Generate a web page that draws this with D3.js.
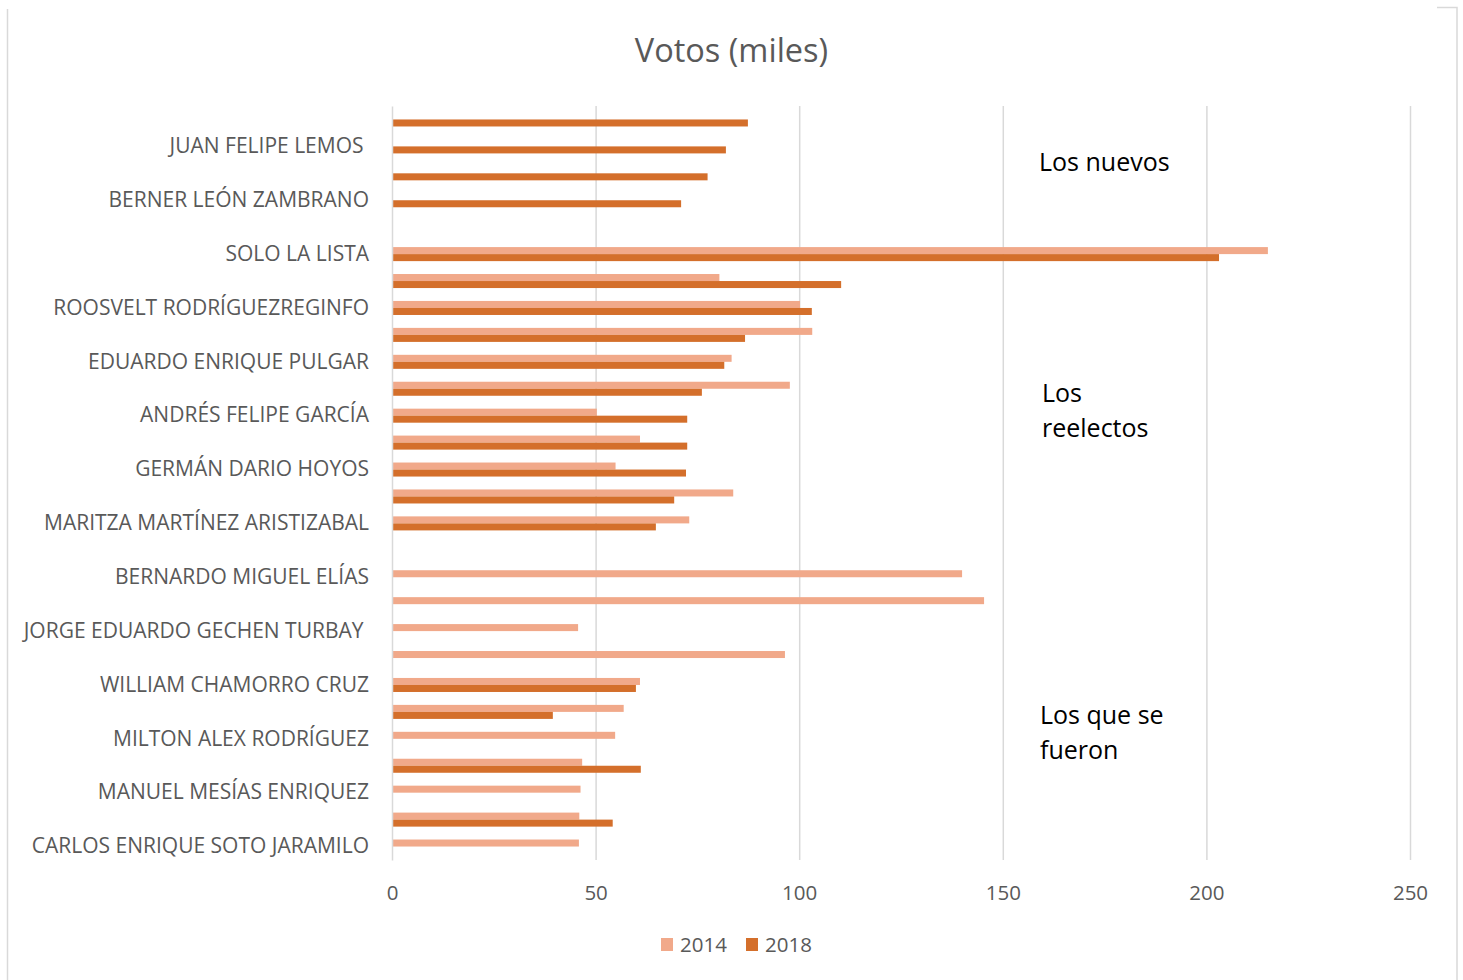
<!DOCTYPE html>
<html>
<head>
<meta charset="utf-8">
<script src="https://cdn.jsdelivr.net/npm/d3@7"></script>
<style>
    body { margin: 0; background: #fff; }
    svg { display: block; font-family: "Open Sans", sans-serif; }
</style>
</head>
<body>
<svg id="chart" width="1463" height="980"></svg>
<script>
'use strict';

// rows from top to bottom; "" = row whose label Excel skipped (or spacer row)
const candidates = [
    '', 'JUAN FELIPE LEMOS ', '', 'BERNER LEÓN ZAMBRANO', '',
    'SOLO LA LISTA', '', 'ROOSVELT RODRÍGUEZREGINFO', '', 'EDUARDO ENRIQUE PULGAR',
    '', 'ANDRÉS FELIPE GARCÍA', '', 'GERMÁN DARIO HOYOS', '', 'MARITZA MARTÍNEZ ARISTIZABAL',
    '', 'BERNARDO MIGUEL ELÍAS', '', 'JORGE EDUARDO GECHEN TURBAY ', '', 'WILLIAM CHAMORRO CRUZ',
    '', 'MILTON ALEX RODRÍGUEZ', '', 'MANUEL MESÍAS ENRIQUEZ', '', 'CARLOS ENRIQUE SOTO JARAMILO'
];

const votes2014 = [
    null, null, null, null, null,
    215.1, 80.4, 100.2, 103.2, 83.4, 97.7, 50.3, 60.9, 54.9, 83.8, 73.0,
    null,
    140.0, 145.4, 45.7, 96.5, 60.9, 56.9, 54.8, 46.7, 46.3, 46.0, 45.9
];

const votes2018 = [
    87.4, 82.0, 77.5, 71.0, null,
    203.1, 110.3, 103.1, 86.7, 81.6, 76.1, 72.5, 72.5, 72.2, 69.3, 64.8,
    null,
    null, null, null, null, 59.9, 39.5, null, 61.1, null, 54.2, null
];

const years = ['2014', '2018'];
const xTicks = [0, 50, 100, 150, 200, 250];
const groups = [
    {lines: ['Los nuevos'], x: 1039, y: 171},
    {lines: ['Los', 'reelectos'], x: 1042, y: 402},
    {lines: ['Los que se', 'fueron'], x: 1040, y: 724}
];

class BarChart {
    constructor(el) {
        this.svg = d3.select(el);
        this.plot = {left: 392, right: 1410, top: 106, bottom: 860};
        this.colors = {'2014': '#f1a98a', '2018': '#d46f2b'};
        this.grid = '#d9d9d9';
        this.text = '#595959';
        this.setUpEnvironment();
        this.drawChart();
    }

    setUpEnvironment() {
        this.xScale = d3.scaleLinear()
            .domain([0, 250])
            .range([this.plot.left, this.plot.right]);

        this.yScale = d3.scaleBand()
            .domain(d3.range(candidates.length))
            .range([this.plot.top, this.plot.bottom]);

        this.subScale = d3.scaleBand()
            .domain(years)
            .range([0, this.yScale.bandwidth()])
            .paddingOuter(0.92);

        this.rows = candidates.map((name, i) => {
            return {i: i, '2014': votes2014[i], '2018': votes2018[i]};
        });
    }

    drawChart() {
        this.drawFrame();
        this.drawGrid();
        this.drawBars();
        this.drawYAxis();
        this.drawXAxis();
        this.drawTitle();
        this.drawLegend();
        this.drawNotes();
    }

    drawFrame() {
        const frame = this.svg.append('g')
            .attr('fill', 'none')
            .attr('stroke', this.grid)
            .attr('stroke-width', 1.5);
        frame.append('path').attr('d', 'M7.5,9V980');
        frame.append('path').attr('d', 'M1437,7.5H1457V980');
    }

    drawGrid() {
        const h = this.plot.bottom - this.plot.top;
        const g = this.svg.append('g')
            .attr('transform', `translate(0,${this.plot.bottom})`)
            .call(d3.axisBottom(this.xScale)
                .tickValues(xTicks.slice(1))
                .tickSize(-h)
                .tickFormat(''));
        g.select('.domain').remove();
        g.selectAll('line')
            .attr('stroke', this.grid)
            .attr('stroke-width', 1.5);
    }

    drawBars() {
        const data = [];
        this.rows.forEach(r => {
            years.forEach(yr => {
                if (r[yr] != null) data.push({i: r.i, year: yr, value: r[yr]});
            });
        });

        this.svg.append('g')
            .selectAll('rect')
            .data(data)
            .enter()
            .append('rect')
            .attr('x', this.xScale(0))
            .attr('y', d => this.yScale(d.i) + this.subScale(d.year))
            .attr('width', d => this.xScale(d.value) - this.xScale(0))
            .attr('height', this.subScale.bandwidth())
            .attr('fill', d => this.colors[d.year]);
    }

    drawYAxis() {
        const g = this.svg.append('g')
            .attr('transform', `translate(${this.plot.left},0)`)
            .call(d3.axisLeft(this.yScale)
                .tickSize(0)
                .tickPadding(23)
                .tickFormat(i => candidates[i]));
        g.select('.domain')
            .attr('stroke', this.grid)
            .attr('stroke-width', 1.5);
        g.selectAll('text')
            .attr('xml:space', 'preserve')
            .attr('fill', this.text)
            .style('font-size', '21px')
            .style('font-family', '"Open Sans", sans-serif');
    }

    drawXAxis() {
        const g = this.svg.append('g')
            .attr('transform', `translate(0,${this.plot.bottom})`)
            .call(d3.axisBottom(this.xScale)
                .tickValues(xTicks)
                .tickSize(0)
                .tickPadding(25));
        g.select('.domain').remove();
        g.selectAll('text')
            .attr('fill', this.text)
            .style('font-size', '20.5px')
            .style('font-family', '"Open Sans", sans-serif');
    }

    drawTitle() {
        this.svg.append('text')
            .attr('x', 731.5)
            .attr('y', 62)
            .attr('text-anchor', 'middle')
            .attr('fill', this.text)
            .style('font-size', '32.5px')
            .text('Votos (miles)');
    }

    drawLegend() {
        const items = this.svg.append('g')
            .selectAll('g')
            .data(years)
            .enter()
            .append('g')
            .attr('transform', (d, i) => `translate(${661 + i * 85},938)`);
        items.append('rect')
            .attr('width', 12)
            .attr('height', 13)
            .attr('fill', d => this.colors[d]);
        items.append('text')
            .attr('x', 19)
            .attr('y', 14)
            .attr('fill', this.text)
            .style('font-size', '20.5px')
            .text(d => d);
    }

    drawNotes() {
        const notes = this.svg.append('g')
            .selectAll('text')
            .data(groups)
            .enter()
            .append('text')
            .attr('x', d => d.x)
            .attr('y', d => d.y)
            .attr('fill', '#000')
            .style('font-size', '25px');
        notes.selectAll('tspan')
            .data(d => d.lines.map((t, k) => ({t: t, x: d.x, k: k})))
            .enter()
            .append('tspan')
            .attr('x', d => d.x)
            .attr('dy', d => d.k ? 35 : 0)
            .text(d => d.t);
    }
}

new BarChart('#chart');
</script>
</body>
</html>
